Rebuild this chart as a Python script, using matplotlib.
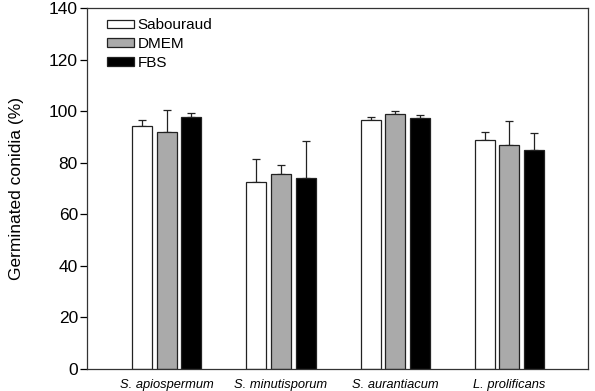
import numpy as np
import matplotlib.pyplot as plt

plt.rcParams['font.family'] = ['Liberation Sans', 'DejaVu Sans']

species = ["S. apiospermum", "S. minutisporum", "S. aurantiacum", "L. prolificans"]
media = ["Sabouraud", "DMEM", "FBS"]
sabouraud = [94.2, 72.7, 96.5, 89.0]
sabouraud_err = [2.3, 8.7, 1.3, 3.0]
dmem = [92.0, 75.6, 99.0, 86.7]
dmem_err = [8.3, 3.6, 1.0, 9.4]
fbs = [97.9, 73.9, 97.4, 85.0]
fbs_err = [1.4, 14.4, 1.2, 6.6]

fig = plt.figure(figsize=(5.95, 3.91), dpi=100)
ax = fig.add_axes([87 / 595, 1 - 369 / 391, 501 / 595, 361 / 391])

x = np.arange(len(species))
width = 0.175
step = 0.215
colors = ["white", "#aaaaaa", "black"]
series = [(sabouraud, sabouraud_err), (dmem, dmem_err), (fbs, fbs_err)]

for i, (vals, errs) in enumerate(series):
    pos = x + (i - 1) * step
    ax.bar(pos, vals, width, color=colors[i], edgecolor="#222222", linewidth=0.9,
           label=media[i], zorder=2)
    ax.errorbar(pos, vals, yerr=[np.zeros(len(errs)), errs], fmt="none",
                ecolor="#222222", elinewidth=0.9, capsize=3, capthick=0.9, zorder=1)

ax.set_xlim(-0.70, 3.69)
ax.set_ylim(0, 140)
ax.set_yticks(range(0, 141, 20))
ax.set_xticks(x)
ax.set_xticklabels(species, fontstyle="italic", fontsize=9.3)
ax.tick_params(axis="x", length=0, pad=7)
ax.tick_params(axis="y", direction="out", length=5, width=0.9, labelsize=12.5, pad=1.5)
ax.set_ylabel("Germinated conidia (%)", fontsize=12.5, labelpad=18)
for s in ax.spines.values():
    s.set_linewidth(0.9)
    s.set_color("#333333")

ax.legend(loc="upper left", bbox_to_anchor=(0.04, 0.971), frameon=False, fontsize=11,
          handlelength=1.75, handleheight=0.5, handletextpad=0.25, labelspacing=0.3,
          borderaxespad=0, borderpad=0)

plt.savefig("out.png", dpi=100)
